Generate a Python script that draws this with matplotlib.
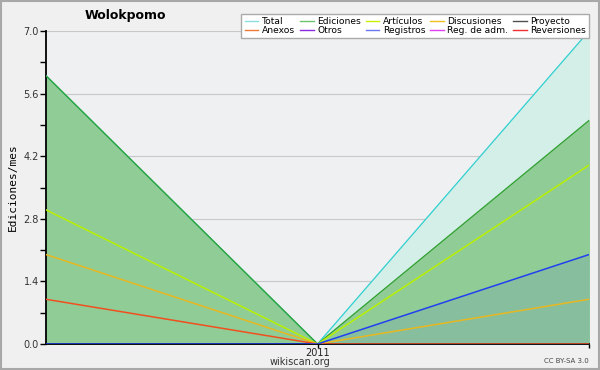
import numpy as np
import matplotlib.pyplot as plt

#Data#
x_pos = [0, 1, 2]
x_labels = ['2011', '']
total = [6, 0, 7]
ediciones = [6, 0, 5]
articulos = [3, 0, 4]
discusiones = [2, 0, 1]
anexos = [1, 0, 0]
registros = [0, 0, 2]
y_ticks = [0.0, 1.4, 2.8, 4.2, 5.6, 7.0]
#/Data#

names = ['Total', 'Anexos', 'Ediciones', 'Otros', 'Artículos', 'Registros',
         'Discusiones', 'Reg. de adm.', 'Proyecto', 'Reversiones']
colors = {'Total': '#8ee0dc', 'Ediciones': '#6cc46c', 'Artículos': '#c8f000',
          'Discusiones': '#f0c020', 'Proyecto': '#505050', 'Anexos': '#f07838',
          'Otros': '#8a2be2', 'Registros': '#6a78f0', 'Reg. de adm.': '#e040f0',
          'Reversiones': '#f03030'}

fig = plt.figure(figsize=(6, 3.7), dpi=100, facecolor='#f0f0f0')
ax = fig.add_axes([46/600, 1-344/370, 543/600, 313/370])
ax.set_facecolor('#eef0f2')

# fills
ax.fill_between(x_pos, 0, total, color='#d4eee8', zorder=1)
ax.fill_between(x_pos, 0, ediciones, color='#90cc96', zorder=2)
ax.fill_between(x_pos, 0, registros, color='#4060e0', alpha=0.12, lw=0, zorder=3)

# lines
ax.plot(x_pos, total, color='#30d0d0', lw=0.9, zorder=4)
ax.plot(x_pos, ediciones, color='#30a030', lw=0.9, zorder=5)
ax.plot(x_pos, articulos, color='#b8f000', lw=1.1, zorder=5)
ax.plot(x_pos, discusiones, color='#e8b820', lw=1.1, zorder=5)
ax.plot(x_pos, anexos, color='#f05020', lw=1.1, zorder=5)
ax.plot(x_pos, registros, color='#2040f0', lw=1.1, zorder=5)

ax.set_xlim(0, 2)
ax.set_ylim(0, 7)
ax.set_xticks(x_pos[1:])
ax.set_xticklabels(x_labels, fontsize=7, color='#222222')
ax.set_yticks(y_ticks)
ax.set_yticklabels(['%.1f' % v for v in y_ticks], fontsize=7, color='#333333')
ax.set_yticks(np.arange(0, 7.01, 0.7), minor=True)
ax.tick_params(axis='both', length=4, width=1, pad=1)
ax.tick_params(axis='x', length=3, pad=0)
ax.tick_params(axis='y', which='minor', length=4, width=1)
ax.grid(axis='y', color='#c8c8c8', lw=0.8, zorder=0)
ax.set_axisbelow(True)
for s in ['top', 'right']:
    ax.spines[s].set_visible(False)
ax.spines['left'].set_linewidth(1.3)
ax.spines['bottom'].set_linewidth(1.3)

ax.set_ylabel('Ediciones/mes', fontsize=8, family='DejaVu Sans Mono', labelpad=4)

fig.text(85/600, 1-15/370, 'Wolokpomo', fontsize=9, fontweight='bold', va='center')
fig.text(300/600, 1-362/370, 'wikiscan.org', fontsize=7, ha='center', va='center', color='#333333')
fig.text(589/600, 1-361/370, 'CC BY-SA 3.0', fontsize=5, ha='right', va='center', color='#444444')

# legend
handles = [plt.Line2D([], [], color=colors[n], lw=1) for n in names]
leg = fig.legend(handles, names, ncol=5, loc='upper right', bbox_to_anchor=(594/600, 1-9/370),
                 fontsize=6.6, frameon=True, fancybox=False, handlelength=1.5, handletextpad=0.4,
                 columnspacing=0.5, labelspacing=0.05, borderpad=0.35)
leg.get_frame().set_edgecolor('#aaaaaa')
leg.get_frame().set_facecolor('white')
leg.get_frame().set_alpha(1)

fig.patches.append(plt.Rectangle((0.001, 0.002), 0.997, 0.995, transform=fig.transFigure,
                                 fill=False, edgecolor='#a8a8a8', lw=1.5))

fig.savefig('out.png', dpi=100, facecolor=fig.get_facecolor())
